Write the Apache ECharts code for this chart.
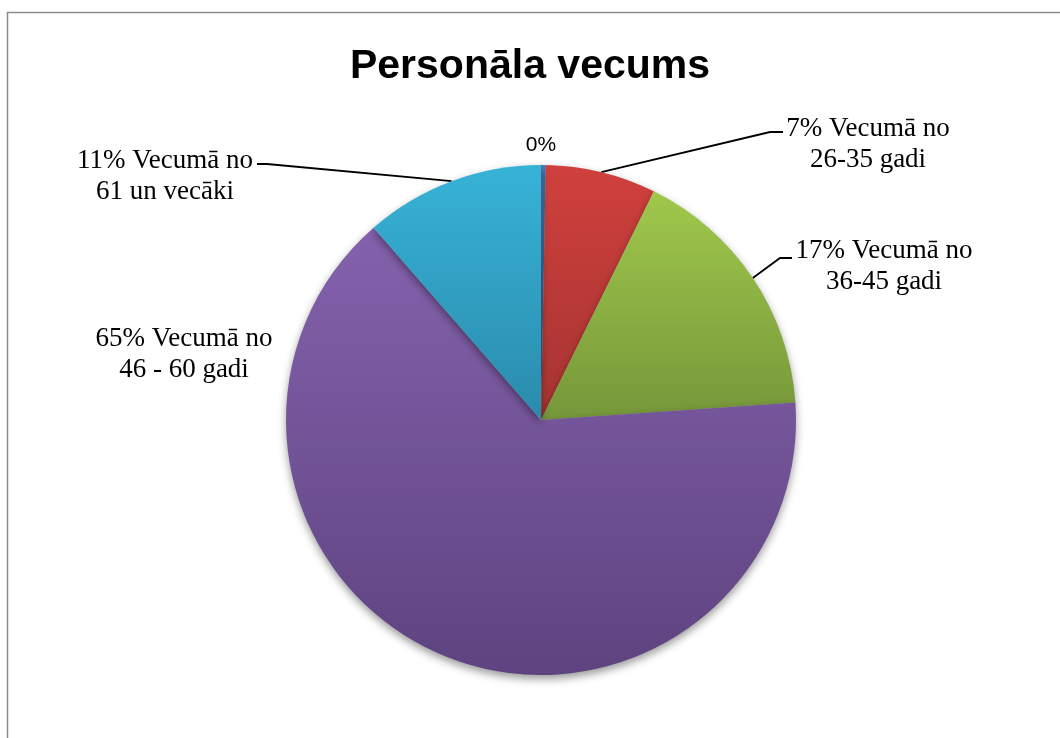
<!DOCTYPE html>
<html>
<head>
<meta charset="utf-8">
<script src="https://cdn.jsdelivr.net/npm/echarts@6/dist/echarts.min.js"></script>
<style>
html,body{margin:0;padding:0;background:#fff;}
#chart{width:1060px;height:738px;}
</style>
</head>
<body>
<div id="chart"></div>
<script>
// Data
const categories = ['Vecumā no 18-25 gadi', 'Vecumā no\n26-35 gadi', 'Vecumā no\n36-45 gadi', 'Vecumā no\n46 - 60 gadi', 'Vecumā no\n61 un vecāki'];
const values = [0.3, 7.0, 16.6, 64.7, 11.4];
const showName = [false, true, true, true, true];
const topColors = ['#4f81bd', '#d0403d', '#a0c84b', '#8462ad', '#37b3d8'];
const bottomColors = ['#3c6496', '#a53431', '#76973a', '#5e4380', '#2a8bab'];

// Label layout (positions of text blocks and leader line elbows)
const labelPos = [
  {x: 541, y: 145, line: null},
  {x: 868, y: 144, line: [[770, 132], [783, 132]]},
  {x: 884, y: 266, line: [[780, 258], [792, 258]]},
  {x: 184, y: 354, line: null},
  {x: 165, y: 176, line: [[267, 164], [257, 164]]}
];

const chart = echarts.init(document.getElementById('chart'));

const data = values.map((v, i) => ({
  value: v,
  name: categories[i],
  itemStyle: {
    color: {
      type: 'linear', x: 0, y: 0, x2: 0, y2: 1,
      colorStops: [{offset: 0, color: topColors[i]}, {offset: 1, color: bottomColors[i]}]
    }
  },
  label: i === 0 ? {fontFamily: 'Liberation Sans', fontSize: 21, lineHeight: 26} : {},
  labelLine: {show: !!labelPos[i].line}
}));

chart.setOption({
  animation: false,
  backgroundColor: '#ffffff',
  title: {
    text: 'Personāla vecums',
    left: 'center',
    top: 41,
    textStyle: {fontFamily: 'Liberation Sans, sans-serif', fontWeight: 'bold', fontSize: 41, color: '#000'}
  },
  graphic: [{
    type: 'rect',
    shape: {x: 7.5, y: 12.5, width: 1100, height: 800},
    style: {fill: 'none', stroke: '#8c8c8c', lineWidth: 1.5},
    silent: true
  }],
  series: [{
    type: 'pie',
    center: ['541px', '420px'],
    radius: 255,
    startAngle: 90,
    clockwise: true,
    avoidLabelOverlap: false,
    itemStyle: {
      shadowBlur: 9,
      shadowOffsetY: 4,
      shadowColor: 'rgba(0,0,0,0.4)'
    },
    label: {
      show: true,
      position: 'outside',
      fontFamily: 'Liberation Serif, Times New Roman, serif',
      fontSize: 27,
      lineHeight: 31,
      color: '#000',
      formatter: function (p) {
        const pct = Math.round(p.percent) + '%';
        return showName[p.dataIndex] ? pct + ' ' + p.name : pct;
      }
    },
    labelLine: {
      show: true,
      length: 20,
      length2: 10,
      smooth: false,
      lineStyle: {color: '#000', width: 1.8}
    },
    labelLayout: function (params) {
      const i = params.dataIndex;
      const L = labelPos[i];
      const res = {x: L.x, y: L.y, align: 'center', verticalAlign: 'middle'};
      if (L.line && params.labelLinePoints) {
        res.labelLinePoints = [params.labelLinePoints[0], L.line[0], L.line[1]];
      }
      return res;
    },
    data: data
  }]
});
</script>
</body>
</html>
